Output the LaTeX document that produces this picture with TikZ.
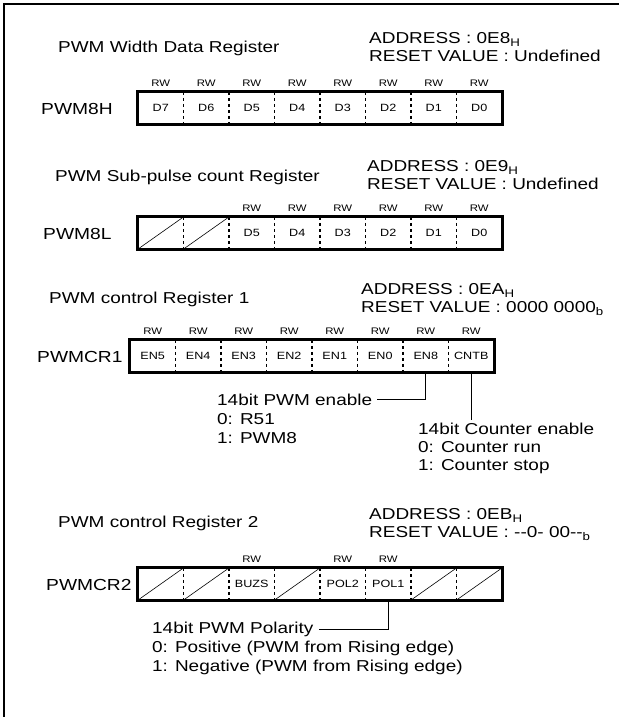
\documentclass[tikz,border=0pt]{standalone}
\usepackage{fontspec}
\setmainfont[FakeStretch=1.2,Ligatures=TeXOff]{Liberation Sans}
\usetikzlibrary{positioning}

\begin{document}
\begin{tikzpicture}[x=1pt,y=-1pt,
    font=\fontsize{15.8}{18.5}\selectfont,
    txt/.style={anchor=base west,inner sep=0pt},
    regname/.style={txt,font=\fontsize{16}{18.5}\selectfont},
    bit/.style={minimum width=45.5pt,minimum height=32pt,inner sep=0pt,
                font=\fontsize{10.5}{12}\selectfont},
    rw/.style={inner sep=0pt,yshift=9pt,font=\fontsize{9.5}{11}\selectfont},
    regbox/.style={line width=2.8pt},
    divider/.style={line width=1.5pt,dash pattern=on 3.5pt off 2.5pt},
    resvd/.style={line width=0.6pt,shorten <=1.5pt,shorten >=1.5pt},
    leader/.style={line width=0.8pt}
]
  \useasboundingbox (0,0) rectangle (619,717);
  \draw[line width=2pt] (4,717) -- (4,4) -- (619,4);

  % PWM8H
  \node[txt] (t1) at (58,52.5) {PWM Width Data Register};
  \node[txt] (a1) at (369,43.5) {ADDRESS : 0E8\textsubscript{H}};
  \node[txt] (r1) at (369,61.5) {RESET VALUE : Undefined};
  \node[regname] (n1) at (41,114) {PWM8H};
  \foreach \b [count=\i] in {D7,D6,D5,D4,D3,D2,D1,D0}
    \node[bit] (wd-\i) at ({138+45.5*(\i-0.5)},108) {\b};
  \foreach \i in {1,...,8} \node[rw] at (wd-\i.north) {RW};
  \draw[regbox] (wd-1.north west) rectangle (wd-8.south east);
  \foreach \i in {1,...,7} \draw[divider] (wd-\i.north east) -- (wd-\i.south east);

  % PWM8L
  \node[txt] (t2) at (55,181.5) {PWM Sub-pulse count Register};
  \node[txt] (a2) at (367,171.5) {ADDRESS : 0E9\textsubscript{H}};
  \node[txt] (r2) at (367,189.5) {RESET VALUE : Undefined};
  \node[regname] (n2) at (43,239) {PWM8L};
  \foreach \b [count=\i] in {{},{},D5,D4,D3,D2,D1,D0}
    \node[bit] (sp-\i) at ({138+45.5*(\i-0.5)},233) {\b};
  \foreach \i in {3,...,8} \node[rw] at (sp-\i.north) {RW};
  \draw[regbox] (sp-1.north west) rectangle (sp-8.south east);
  \foreach \i in {1,...,7} \draw[divider] (sp-\i.north east) -- (sp-\i.south east);
  \foreach \i in {1,2} \draw[resvd] (sp-\i.south west) -- (sp-\i.north east);

  % PWMCR1
  \node[txt] (t3) at (49,303.5) {PWM control Register 1};
  \node[txt] (a3) at (361,294.5) {ADDRESS : 0EA\textsubscript{H}};
  \node[txt] (r3) at (361,312.5) {RESET VALUE : 0000 0000\textsubscript{b}};
  \node[regname] (n3) at (37,362) {PWMCR1};
  \foreach \b [count=\i] in {EN5,EN4,EN3,EN2,EN1,EN0,EN8,CNTB}
    \node[bit] (cr1-\i) at ({130+45.5*(\i-0.5)},356) {\b};
  \foreach \i in {1,...,8} \node[rw] at (cr1-\i.north) {RW};
  \draw[regbox] (cr1-1.north west) rectangle (cr1-8.south east);
  \foreach \i in {1,...,7} \draw[divider] (cr1-\i.north east) -- (cr1-\i.south east);

  \node[txt] (pwmen) at (217,405.5) {14bit PWM enable};
  \node[txt] (pwmen0) at (217,424.5) {0: R51};
  \node[txt] (pwmen1) at (217,443.5) {1: PWM8};
  \draw[leader] (cr1-7.south) |- ([xshift=5pt]pwmen.east);

  \node[txt] (cnten) at (418,434.5) {14bit Counter enable};
  \node[txt] (cnten0) at (418,452.5) {0: Counter run};
  \node[txt] (cnten1) at (418,470.5) {1: Counter stop};
  \draw[leader,shorten >=3pt] (cr1-8.south) -- (cr1-8.south |- cnten.north);

  % PWMCR2
  \node[txt] (t4) at (58,527.5) {PWM control Register 2};
  \node[txt] (a4) at (369,519.5) {ADDRESS : 0EB\textsubscript{H}};
  \node[txt] (r4) at (369,537.5) {RESET VALUE : --0- 00--\textsubscript{b}};
  \node[regname] (n4) at (46,590) {PWMCR2};
  \foreach \b [count=\i] in {{},{},BUZS,{},POL2,POL1,{},{}}
    \node[bit] (cr2-\i) at ({138+45.5*(\i-0.5)},584) {\b};
  \foreach \i in {3,5,6} \node[rw] at (cr2-\i.north) {RW};
  \draw[regbox] (cr2-1.north west) rectangle (cr2-8.south east);
  \foreach \i in {1,...,7} \draw[divider] (cr2-\i.north east) -- (cr2-\i.south east);
  \foreach \i in {1,2,4,7,8} \draw[resvd] (cr2-\i.south west) -- (cr2-\i.north east);

  \node[txt] (polar) at (152,633.5) {14bit PWM Polarity};
  \node[txt] (polar0) at (152,652.5) {0: Positive (PWM from Rising edge)};
  \node[txt] (polar1) at (152,671) {1: Negative (PWM from Rising edge)};
  \draw[leader] (cr2-6.south) |- ([xshift=5pt]polar.east);
\end{tikzpicture}
\end{document}
